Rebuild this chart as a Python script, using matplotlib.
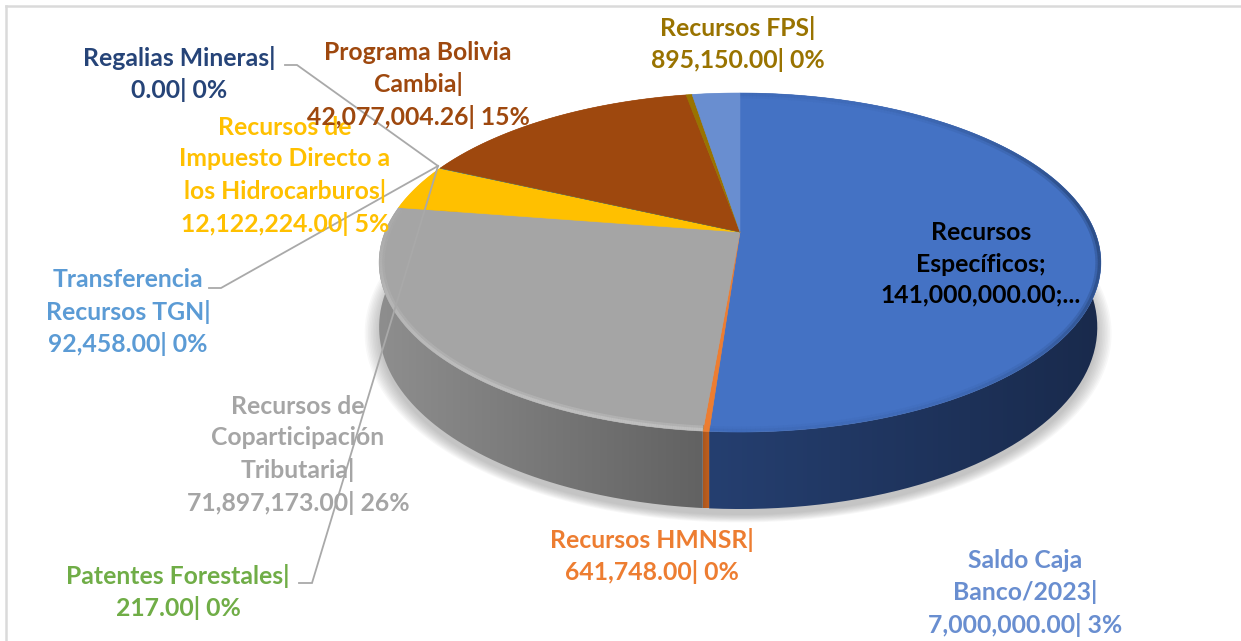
import matplotlib
matplotlib.use("Agg")
import matplotlib.pyplot as plt
from matplotlib.collections import LineCollection
from matplotlib.patches import PathPatch
from matplotlib.path import Path
import numpy as np

# clockwise from 12 o'clock, as in the source sheet
categories = ["Recursos Especificos", "Recursos HMNSR", "Recursos de Coparticipacion Tributaria",
              "Recursos de Impuesto Directo a los Hidrocarburos", "Transferencia Recursos TGN",
              "Patentes Forestales", "Regalias Mineras", "Programa Bolivia Cambia",
              "Recursos FPS", "Saldo Caja Banco/2023"]
values = [141000000.00, 641748.00, 71897173.00, 12122224.00, 92458.00,
          217.00, 0.00, 42077004.26, 895150.00, 7000000.00]
labels = ["Recursos\nEspecíficos;\n141,000,000.00;...",
          "Recursos HMNSR|\n641,748.00| 0%",
          "Recursos de\nCoparticipación\nTributaria|\n71,897,173.00| 26%",
          "Recursos de\nImpuesto Directo a\nlos Hidrocarburos|\n12,122,224.00| 5%",
          "Transferencia\nRecursos TGN|\n92,458.00| 0%",
          "Patentes Forestales|\n217.00| 0%",
          "Regalias Mineras|\n0.00| 0%",
          "Programa Bolivia\nCambia|\n42,077,004.26| 15%",
          "Recursos FPS|\n895,150.00| 0%",
          "Saldo Caja\nBanco/2023|\n7,000,000.00| 3%"]
colors = ["#4472C4", "#ED7D31", "#A5A5A5", "#FFC000", "#5B9BD5",
          "#70AD47", "#264478", "#9E480E", "#997300", "#698ED0"]
text_colors = ["black"] + colors[1:]
label_x = [981, 652, 298, 285, 128, 178, 179, 418, 738, 1025]
label_y = [264, 556, 455, 176, 312, 592, 74, 85, 44, 593]

# side wall colours, left to right
side_grad = {0: ("#253F70", "#192A4C"), 1: ("#A9561E", "#C4601F"), 2: ("#8E8E8E", "#626262")}

CX, CY, R = 740.0, 232.0, 355.0
K, B = 0.18, -122.26


def top_xy(ang):
    u, v = np.sin(ang), np.cos(ang)
    d = 1 + K * v
    return CX + R * u / d, (CY + B * v) / d


def bottom_xy(ang):
    x, y = top_xy(ang)
    scale = np.where(x > CX, 0.99, 1.0)
    return CX + scale * (x - CX), y + 62 - 15 * np.cos(ang)


fig = plt.figure(figsize=(12.41, 6.41), dpi=100)
ax = fig.add_axes([0, 0, 1, 1])
ax.axis("off")

# frame
ax.plot([6, 6], [641, 6], color="#DADADA", lw=1.8, zorder=1)
ax.plot([6, 1241], [6, 6], color="#DADADA", lw=1.8, zorder=1)

# soft shadow under the pie
t = np.linspace(0, 2 * np.pi, 300)
bx, by = bottom_xy(t)
for s in np.linspace(1.04, 1.0, 10):
    ax.fill(CX + s * (bx - CX), 330 + s * (by - 324), color="#808080", alpha=0.055, lw=0, zorder=2)

edges = np.r_[0, np.cumsum(values)] / np.sum(values) * 2 * np.pi

# side walls
for i, c in enumerate(colors):
    if values[i] == 0:
        continue
    a = np.linspace(edges[i], edges[i + 1], 200)
    tx, ty = top_xy(a)
    ux, uy = bottom_xy(a)
    poly = np.c_[np.r_[tx, ux[::-1]], np.r_[ty, uy[::-1]]]
    patch = PathPatch(Path(np.vstack([poly, poly[0]])), transform=ax.transData, fc="none", ec="none")
    ax.add_patch(patch)
    left, right = side_grad.get(i, (c, c))
    rgb0, rgb1 = np.array(matplotlib.colors.to_rgb(left)), np.array(matplotlib.colors.to_rgb(right))
    w = np.linspace(0, 1, 256)[:, None]
    grad = (rgb0 * (1 - w) + rgb1 * w)[None, :, :]
    im = ax.imshow(grad, extent=[poly[:, 0].min(), poly[:, 0].max(), poly[:, 1].max(), poly[:, 1].min()],
                   aspect="auto", zorder=3, interpolation="bilinear")
    im.set_clip_path(patch)

# top face
for i, c in enumerate(colors):
    if values[i] == 0:
        continue
    a = np.linspace(edges[i], edges[i + 1], 200)
    tx, ty = top_xy(a)
    ax.fill(np.r_[CX, tx], np.r_[CY, ty], color=c, lw=0.4, zorder=4)

# bevel along the rim, kept inside the top face so it leaves no fringe on the white
rx, ry = top_xy(t)
face = PathPatch(Path(np.c_[rx, ry]), transform=ax.transData, fc="none", ec="none")
ax.add_patch(face)
rim_cols = {0: "#24406F", 1: "#F08A45", 2: "#C9C9C9"}
for i, c in rim_cols.items():
    a = np.linspace(edges[i], edges[i + 1], 300)
    tx, ty = top_xy(a)
    seg = np.c_[tx, ty]
    segs = np.stack([seg[:-1], seg[1:]], axis=1)
    if i == 0:
        # the blue edge is dark at the right and melts away towards the front
        fade = 0.12 + 0.8 * np.clip(np.sin(a[:-1]), 0, 1) ** 4
    else:
        # brightness of the bevel fades towards the back of the pie
        fade = np.clip(0.25 - 0.85 * np.cos(a[:-1]), 0.12, 1)
    base = matplotlib.colors.to_rgb(c)
    for lw, al in [(8.0, 0.35), (4.5, 0.6)]:
        lc = LineCollection(segs, colors=[(*base, al * f) for f in fade], linewidths=lw,
                            capstyle="butt", zorder=5)
        ax.add_collection(lc)
        lc.set_clip_path(face)

# leader lines
hub = (438, 166)
leaders = [[(285, 65), (297, 65), hub], [(209, 288), (221, 288), hub], [(299, 583), (312, 583), hub]]
for pts in leaders:
    xs, ys = zip(*pts)
    ax.plot(xs, ys, color="#A9A9A9", lw=1.3, zorder=6, solid_joinstyle="miter")

for i, txt in enumerate(labels):
    ax.text(label_x[i], label_y[i], txt, color=text_colors[i], family="Lato", fontweight="bold",
            fontsize=17.8, ha="center", va="center", linespacing=1.44, zorder=7)

ax.set_xlim(0, 1241)
ax.set_ylim(641, 0)
fig.savefig("out.png", dpi=100, facecolor="white")
